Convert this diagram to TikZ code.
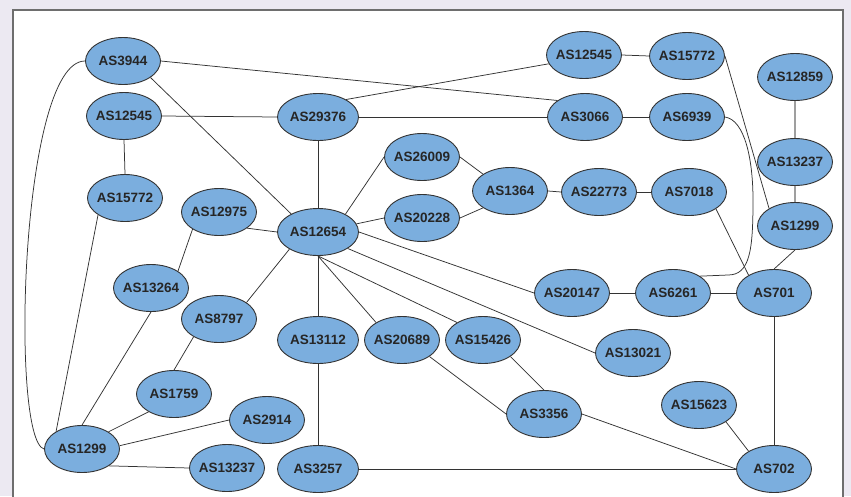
\documentclass[tikz,border=0pt]{standalone}
\usepackage{fontspec}
\setmainfont{Liberation Sans}
\usetikzlibrary{shapes.geometric}
\definecolor{nodefill}{HTML}{7BAEDE}
\definecolor{edgecol}{HTML}{333333}
\definecolor{pagebg}{HTML}{ECE9F2}
\definecolor{framecol}{HTML}{6E6E6E}
\newcommand{\aslabel}[1]{\makebox[0pt][c]{#1}}

\begin{document}
\begin{tikzpicture}[x=1pt,y=-1pt,
  asnode/.style={ellipse, draw=edgecol, line width=0.9pt, fill=nodefill,
    inner sep=0pt, minimum width=75pt, minimum height=47pt,
    font=\fontsize{13.5}{16}\selectfont\bfseries, text=black!85},
  wide/.style={minimum width=81pt},
  link/.style={draw=edgecol, line width=0.75pt},
  graylink/.style={draw=gray!75, line width=1.6pt}]

% page and frame
\useasboundingbox (0,0) rectangle (851,496);
\fill[pagebg] (0,0) rectangle (851,496);
\fill[white] (13,10) rectangle (843,496);
\draw[framecol, line width=1.4pt] (13,497) -- (13,10) -- (843,10) -- (843,497);

% AS nodes
\node[asnode] (a3944)   at (123,61)  {\aslabel{AS3944}};
\node[asnode] (a12545l) at (124,116) {\aslabel{AS12545}};
\node[asnode] (a15772l) at (125,198) {\aslabel{AS15772}};
\node[asnode,wide] (a29376) at (318,117) {\aslabel{AS29376}};
\node[asnode] (a3066)   at (585,117) {\aslabel{AS3066}};
\node[asnode] (a6939)   at (687,117) {\aslabel{AS6939}};
\node[asnode] (a12545r) at (584,55)  {\aslabel{AS12545}};
\node[asnode] (a15772r) at (687,56)  {\aslabel{AS15772}};
\node[asnode] (a12859)  at (795,77)  {\aslabel{AS12859}};
\node[asnode] (a13237r) at (795,162) {\aslabel{AS13237}};
\node[asnode] (a1299r)  at (795,226) {\aslabel{AS1299}};
\node[asnode] (a7018)   at (689,192) {\aslabel{AS7018}};
\node[asnode] (a701)    at (774,293) {\aslabel{AS701}};
\node[asnode] (a6261)   at (673,293) {\aslabel{AS6261}};
\node[asnode] (a13021)  at (633,353) {\aslabel{AS13021}};
\node[asnode] (a15623)  at (699,405) {\aslabel{AS15623}};
\node[asnode] (a702)    at (774,469) {\aslabel{AS702}};
\node[asnode] (a20147)  at (572,293) {\aslabel{AS20147}};
\node[asnode] (a3356)   at (544,414) {\aslabel{AS3356}};
\node[asnode] (a15426)  at (483,340) {\aslabel{AS15426}};
\node[asnode] (a20689)  at (402,340) {\aslabel{AS20689}};
\node[asnode,wide] (a13112) at (318,340) {\aslabel{AS13112}};
\node[asnode,wide] (a3257)  at (318,469) {\aslabel{AS3257}};
\node[asnode] (a2914)   at (267,420) {\aslabel{AS2914}};
\node[asnode] (a1759)   at (174,394) {\aslabel{AS1759}};
\node[asnode] (a8797)   at (219,319) {\aslabel{AS8797}};
\node[asnode] (a13264)  at (151,288) {\aslabel{AS13264}};
\node[asnode] (a12975)  at (219,212) {\aslabel{AS12975}};
\node[asnode,wide] (a12654) at (318,232) {\aslabel{AS12654}};
\node[asnode] (a26009)  at (422,157) {\aslabel{AS26009}};
\node[asnode] (a20228)  at (422,218) {\aslabel{AS20228}};
\node[asnode] (a1364)   at (510,191) {\aslabel{AS1364}};
\node[asnode] (a22773)  at (599,192) {\aslabel{AS22773}};
\node[asnode] (a1299l)  at (82,449)  {\aslabel{AS1299}};
\node[asnode] (a13237l) at (227,468) {\aslabel{AS13237}};

% links
\draw[link] (a3944.east) -- (a3066.149);
\draw[link] (a3944.-31) -- (a12654.146);
\draw[link] (a3944.west) .. controls (20,61) and (10,440) .. (a1299l.west);
\draw[link] (a12545l.east) -- (a29376.west);
\draw[link] (a12545l.south) -- (a15772l.north);
\draw[link] (a15772l.212) -- (a1299l.146);
\draw[link] (a29376.32) -- (a12545r.194);
\draw[link] (a29376.east) -- (a3066.west);
\draw[link] (a29376.south) -- (a12654.north);
\draw[link] (a3066.east) -- (a6939.west);
\draw[link] (a12545r.east) -- (a15772r.west);
\draw[link] (a15772r.east) -- (a1299r.146);
\draw[link] (a6939.east) .. controls (745,120) and (753,160) .. (753,200)
  .. controls (753,250) and (750,275) .. (728,275) -- (a6261.32);
\draw[graylink] (a12859.south) -- (a13237r.north);
\draw[graylink] (a13237r.south) -- (a1299r.north);
\draw[link] (a1299r.south) -- (a701.north);
\draw[link] (a7018.-32) -- (a701.145);
\draw[link] (a22773.east) -- (a7018.west);
\draw[link] (a1364.east) -- (a22773.west);
\draw[link] (a26009.east) -- (a1364.148);
\draw[link] (a20228.east) -- (a1364.212);
\draw[link] (a12654.33) -- (a26009.west);
\draw[link] (a12654) -- (a20228.west);
\draw[link] (a12975.-30) -- (a12654.west);
\draw[link] (a12975.213) -- (a13264.32);
\draw[link] (a13264.south) -- (a1299l.north);
\draw[link] (a12654.211) -- (a8797.31);
\draw[link] (a8797.215) -- (a1759.north);
\draw[link] (a1759.215) -- (a1299l.33);
\draw[link] (a2914.west) -- (a1299l.5);
\draw[link] (a1299l.-32) -- (a13237l.west);
\draw[link] (a12654.south) -- (a13112.north);
\draw[link] (a13112.south) -- (a3257.north);
\draw[link] (a12654.south) -- (a20689.146);
\draw[link] (a12654.south) -- (a15426.146);
\draw[link] (a12654.east) -- (a20147.west);
\draw[link] (a12654.-29) -- (a13021.west);
\draw[link] (a20689.-31) -- (a3356.west);
\draw[link] (a15426.-31) -- (a3356.north);
\draw[link] (a3356.east) -- (a702.west);
\draw[link] (a3257.east) -- (a702.west);
\draw[link] (a15623.-32) -- (a702.145);
\draw[link] (a701.south) -- (a702.north);
\draw[link] (a20147.east) -- (a6261.west);
\draw[link] (a6261.east) -- (a701.west);
\end{tikzpicture}
\end{document}
